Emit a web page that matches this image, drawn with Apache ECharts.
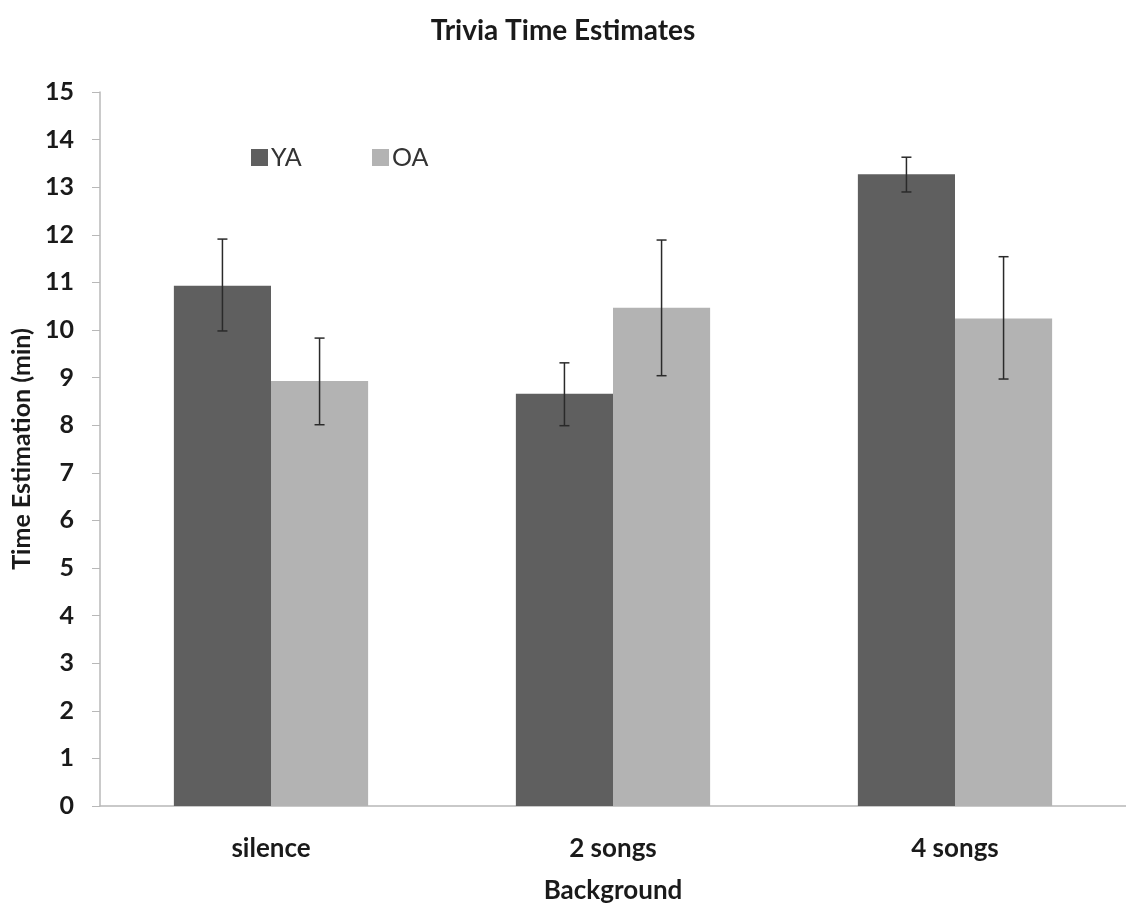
<!DOCTYPE html>
<html>
<head>
<meta charset="utf-8">
<script src="https://cdn.jsdelivr.net/npm/echarts@6/dist/echarts.min.js"></script>
<style>html,body{margin:0;padding:0;background:#fff;}#c{width:1126px;height:910px;}</style>
</head>
<body>
<div id="c"></div>
<script>
const categories = ['silence', '2 songs', '4 songs'];
const seriesNames = ['YA', 'OA'];
const yaValues = [10.93, 8.66, 13.27];
const oaValues = [8.93, 10.47, 10.24];
const yaLow = [9.98, 7.99, 12.90];
const yaHigh = [11.91, 9.31, 13.63];
const oaLow = [8.01, 9.04, 8.97];
const oaHigh = [9.83, 11.89, 11.54];
const yTicks = [0, 15, 1];

const FONT = 'Lato';
const barFrac = 0.284;

function errData(low, high) {
  return categories.map((c, i) => [i, low[i], high[i]]);
}
function errSeries(low, high, side) {
  return {
    type: 'custom',
    z: 10,
    silent: true,
    encode: { x: 0, y: [1, 2] },
    data: errData(low, high),
    renderItem: function (params, api) {
      const idx = api.value(0);
      const lo = api.coord([idx, api.value(1)]);
      const hi = api.coord([idx, api.value(2)]);
      const band = api.size([1, 0])[0];
      const x = lo[0] + side * band * barFrac / 2;
      const cap = 5;
      const st = { stroke: '#2a2a2a', lineWidth: 1.5 };
      return {
        type: 'group',
        children: [
          { type: 'line', shape: { x1: x, y1: hi[1], x2: x, y2: lo[1] }, style: st },
          { type: 'line', shape: { x1: x - cap, y1: hi[1], x2: x + cap, y2: hi[1] }, style: st },
          { type: 'line', shape: { x1: x - cap, y1: lo[1], x2: x + cap, y2: lo[1] }, style: st }
        ]
      };
    }
  };
}

const chart = echarts.init(document.getElementById('c'));
chart.setOption({
  backgroundColor: '#ffffff',
  animation: false,
  title: {
    text: 'Trivia Time Estimates',
    left: 'center',
    top: 12,
    textStyle: { fontFamily: FONT, fontSize: 28, fontWeight: 'bold', color: '#1a1a1a' }
  },
  legend: [
    {
      data: [seriesNames[0]], left: 246, top: 140, itemWidth: 17, itemHeight: 17, icon: 'rect',
      textStyle: { fontFamily: FONT, fontSize: 25, color: '#333', padding: [0, 0, 0, -2] }
    },
    {
      data: [seriesNames[1]], left: 367, top: 140, itemWidth: 17, itemHeight: 17, icon: 'rect',
      textStyle: { fontFamily: FONT, fontSize: 25, color: '#333', padding: [0, 0, 0, -2] }
    }
  ],
  grid: { left: 100, right: 0, top: 92, bottom: 104, containLabel: false },
  xAxis: {
    type: 'category',
    data: categories,
    axisLine: { lineStyle: { color: '#b8b8b8', width: 1.5 } },
    axisTick: { show: false },
    axisLabel: { fontFamily: FONT, fontSize: 26, fontWeight: 'bold', color: '#1a1a1a', margin: 30 },
    name: 'Background',
    nameLocation: 'middle',
    nameGap: 72,
    nameTextStyle: { fontFamily: FONT, fontSize: 26, fontWeight: 'bold', color: '#1a1a1a' }
  },
  yAxis: {
    type: 'value',
    min: yTicks[0], max: yTicks[1], interval: yTicks[2],
    axisLine: { show: true, lineStyle: { color: '#b8b8b8', width: 1.5 } },
    axisTick: { show: true, length: 8, lineStyle: { color: '#b8b8b8' } },
    splitLine: { show: false },
    axisLabel: { fontFamily: FONT, fontSize: 25, fontWeight: 'bold', color: '#1a1a1a', margin: 26 },
    name: 'Time Estimation (min)',
    nameLocation: 'middle',
    nameGap: 64,
    nameTextStyle: { fontFamily: FONT, fontSize: 25, fontWeight: 'bold', color: '#1a1a1a' }
  },
  series: [
    { name: seriesNames[0], type: 'bar', data: yaValues, barWidth: (barFrac * 100) + '%', barGap: '0%', itemStyle: { color: '#5f5f5f' } },
    { name: seriesNames[1], type: 'bar', data: oaValues, barWidth: (barFrac * 100) + '%', barGap: '0%', itemStyle: { color: '#b3b3b3' } },
    errSeries(yaLow, yaHigh, -1),
    errSeries(oaLow, oaHigh, 1)
  ]
});
</script>
</body>
</html>
